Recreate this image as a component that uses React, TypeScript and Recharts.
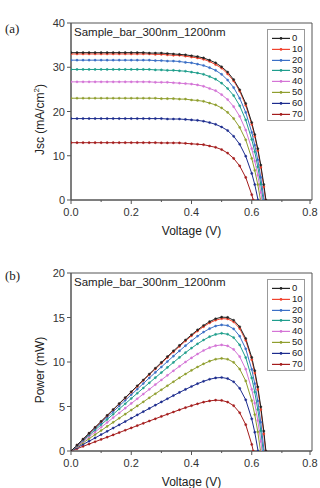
import { LineChart, Line, XAxis, YAxis, ReferenceArea, Legend, Label } from "recharts";

// bias points (V); each series stops at its own open-circuit voltage
const voltage = [
  0, 0.02, 0.04, 0.06, 0.08, 0.1, 0.12, 0.14, 0.16, 0.18, 0.2, 0.22, 0.24, 0.26, 0.28,
  0.3, 0.32, 0.34, 0.36, 0.38, 0.4, 0.42, 0.44, 0.46, 0.48, 0.5, 0.52, 0.54, 0.56, 0.58,
  0.6, 0.61, 0.62, 0.63, 0.64,
];

const labels = ["0", "10", "20", "30", "40", "50", "60", "70"];
const colors = ["#222222", "#f0432e", "#3b6fc6", "#1f9e8c", "#d474d6", "#8f9e2e", "#1c2c8e", "#a41c1c"];
const voc = [0.647, 0.646, 0.641, 0.638, 0.634, 0.629, 0.621, 0.605];

// current density (mA/cm2)
const jsc0 = [
  33.3, 33.3, 33.3, 33.3, 33.3, 33.3, 33.3, 33.3, 33.3, 33.3, 33.3, 33.3, 33.3, 33.2, 33.2,
  33.2, 33.1, 33.0, 32.9, 32.8, 32.6, 32.4, 32.1, 31.6, 31.0, 30.1, 28.9, 27.2, 24.9, 21.8,
  17.5, 14.8, 11.6, 7.9, 3.5,
];
const jsc10 = [
  33.0, 33.0, 33.0, 33.0, 33.0, 33.0, 33.0, 33.0, 33.0, 33.0, 33.0, 33.0, 33.0, 33.0, 32.9,
  32.9, 32.8, 32.7, 32.7, 32.5, 32.3, 32.1, 31.8, 31.3, 30.6, 29.8, 28.5, 26.9, 24.6, 21.4,
  17.1, 14.4, 11.2, 7.4, 3.0,
];
const jsc20 = [
  31.6, 31.6, 31.6, 31.6, 31.6, 31.6, 31.6, 31.6, 31.6, 31.6, 31.6, 31.6, 31.6, 31.6, 31.5,
  31.5, 31.4, 31.4, 31.3, 31.1, 31.0, 30.7, 30.4, 29.9, 29.3, 28.4, 27.1, 25.4, 23.0, 19.8,
  15.3, 12.4, 9.1, 5.1,
];
const jsc30 = [
  29.5, 29.5, 29.5, 29.5, 29.5, 29.5, 29.5, 29.5, 29.5, 29.5, 29.5, 29.5, 29.5, 29.5, 29.4,
  29.4, 29.3, 29.3, 29.2, 29.1, 28.9, 28.7, 28.4, 27.9, 27.3, 26.4, 25.2, 23.6, 21.3, 18.1,
  13.7, 10.9, 7.5, 3.6,
];
const jsc40 = [
  26.7, 26.7, 26.7, 26.7, 26.7, 26.7, 26.7, 26.7, 26.7, 26.7, 26.7, 26.7, 26.7, 26.7, 26.6,
  26.6, 26.6, 26.5, 26.4, 26.3, 26.2, 26.0, 25.7, 25.2, 24.7, 23.8, 22.7, 21.1, 18.9, 15.8,
  11.6, 8.8, 5.6, 1.7,
];
const jsc50 = [
  23.0, 23.0, 23.0, 23.0, 23.0, 23.0, 23.0, 23.0, 23.0, 23.0, 23.0, 23.0, 23.0, 23.0, 23.0,
  22.9, 22.9, 22.9, 22.8, 22.8, 22.6, 22.5, 22.3, 21.9, 21.5, 20.8, 19.8, 18.4, 16.4, 13.6,
  9.4, 6.7, 3.5,
];
const jsc60 = [
  18.4, 18.4, 18.4, 18.4, 18.4, 18.4, 18.4, 18.4, 18.4, 18.4, 18.4, 18.4, 18.4, 18.4, 18.4,
  18.4, 18.3, 18.3, 18.3, 18.2, 18.1, 18.0, 17.8, 17.5, 17.1, 16.5, 15.7, 14.4, 12.6, 9.9,
  6.0, 3.5,
];
const jsc70 = [
  12.95, 12.95, 12.95, 12.95, 12.95, 12.95, 12.95, 12.95, 12.95, 12.95, 12.95, 12.95, 12.95, 12.95, 12.95,
  12.9, 12.9, 12.9, 12.9, 12.8, 12.7, 12.6, 12.5, 12.2, 11.9, 11.4, 10.6, 9.4, 7.7, 5.1,
  1.2,
];

// output power (mW)
const power0 = [
  0, 0.67, 1.33, 2.0, 2.66, 3.33, 4.0, 4.66, 5.33, 5.99, 6.66, 7.32, 7.98, 8.64, 9.3,
  9.95, 10.6, 11.24, 11.86, 12.47, 13.06, 13.6, 14.1, 14.53, 14.86, 15.04, 15.01, 14.69, 13.96, 12.64,
  10.51, 9.02, 7.2, 4.96, 2.24,
];
const power10 = [
  0, 0.66, 1.32, 1.98, 2.64, 3.3, 3.96, 4.62, 5.28, 5.94, 6.6, 7.26, 7.92, 8.57, 9.22,
  9.86, 10.5, 11.13, 11.75, 12.36, 12.94, 13.48, 13.97, 14.39, 14.7, 14.87, 14.84, 14.51, 13.76, 12.43,
  10.26, 8.76, 6.92, 4.66, 1.92,
];
const power20 = [
  0, 0.63, 1.26, 1.9, 2.53, 3.16, 3.79, 4.42, 5.06, 5.69, 6.32, 6.95, 7.58, 8.21, 8.83,
  9.44, 10.05, 10.66, 11.25, 11.83, 12.38, 12.9, 13.36, 13.75, 14.04, 14.17, 14.1, 13.72, 12.9, 11.48,
  9.17, 7.58, 5.63, 3.23,
];
const power30 = [
  0, 0.59, 1.18, 1.77, 2.36, 2.95, 3.54, 4.13, 4.72, 5.31, 5.9, 6.49, 7.08, 7.66, 8.24,
  8.81, 9.39, 9.95, 10.51, 11.05, 11.56, 12.04, 12.47, 12.84, 13.1, 13.22, 13.12, 12.74, 11.92, 10.5,
  8.21, 6.62, 4.67, 2.28,
];
const power40 = [
  0, 0.53, 1.07, 1.6, 2.14, 2.67, 3.2, 3.74, 4.27, 4.81, 5.34, 5.87, 6.4, 6.93, 7.46,
  7.98, 8.5, 9.01, 9.51, 10.0, 10.46, 10.9, 11.29, 11.61, 11.83, 11.92, 11.81, 11.41, 10.6, 9.19,
  6.93, 5.37, 3.44, 1.08,
];
const power50 = [
  0, 0.46, 0.92, 1.38, 1.84, 2.3, 2.76, 3.22, 3.68, 4.14, 4.6, 5.06, 5.52, 5.98, 6.43,
  6.88, 7.33, 7.78, 8.22, 8.65, 9.06, 9.44, 9.79, 10.09, 10.31, 10.4, 10.31, 9.96, 9.21, 7.87,
  5.65, 4.09, 2.16,
];
const power60 = [
  0, 0.37, 0.74, 1.1, 1.47, 1.84, 2.21, 2.58, 2.94, 3.31, 3.68, 4.05, 4.42, 4.78, 5.15,
  5.51, 5.87, 6.23, 6.58, 6.92, 7.25, 7.56, 7.83, 8.06, 8.21, 8.26, 8.14, 7.78, 7.04, 5.75,
  3.61, 2.11,
];
const power70 = [
  0, 0.26, 0.52, 0.78, 1.04, 1.3, 1.55, 1.81, 2.07, 2.33, 2.59, 2.85, 3.11, 3.37, 3.62,
  3.88, 4.13, 4.38, 4.63, 4.87, 5.09, 5.3, 5.49, 5.63, 5.71, 5.68, 5.5, 5.09, 4.3, 2.96,
  0.74,
];

const xTicks = [0, 0.1, 0.2, 0.3, 0.4, 0.5, 0.6, 0.7, 0.8];
const jscTicks = [0, 5, 10, 15, 20, 25, 30, 35, 40];
const powerTicks = [0, 2.5, 5, 7.5, 10, 12.5, 15, 17.5, 20];

const jscSeries = [jsc0, jsc10, jsc20, jsc30, jsc40, jsc50, jsc60, jsc70];
const powerSeries = [power0, power10, power20, power30, power40, power50, power60, power70];

const FONT = '"Liberation Sans", Arial, sans-serif';
const AXIS = "#555";

type Pt = { v: number; y: number };

const toPoints = (vals: number[], end: number): Pt[] => [
  ...vals.map((y, k) => ({ v: voltage[k], y })),
  { v: end, y: 0 },
];

function XTick({ x, y, payload }: any) {
  const major = Math.round(payload.value * 10) % 2 === 0;
  return (
    <g>
      <line x1={x} x2={x} y1={y} y2={y + (major ? 4 : 2)} stroke={AXIS} />
      {major && (
        <text x={x} y={y + 16} textAnchor="middle" fontSize={11} fill="#333" fontFamily={FONT}>
          {payload.value.toFixed(1)}
        </text>
      )}
    </g>
  );
}

function makeYTick(step: number) {
  return function YTick({ x, y, payload }: any) {
    const major = payload.value % step === 0;
    return (
      <g>
        <line x1={x - (major ? 4 : 2)} x2={x} y1={y} y2={y} stroke={AXIS} />
        {major && (
          <text x={x - 6} y={y + 4} textAnchor="end" fontSize={11} fill="#333" fontFamily={FONT}>
            {payload.value}
          </text>
        )}
      </g>
    );
  };
}

function PlotTitle({ viewBox }: any) {
  return (
    <text x={viewBox.x + 3} y={viewBox.y + 13} fontSize={11.5} fill="#222" fontFamily={FONT}>
      Sample_bar_300nm_1200nm
    </text>
  );
}

function LegendBox({ rowHeight }: { rowHeight: number }) {
  return (
    <div
      style={{
        border: "1px solid #999",
        background: "#fff",
        padding: "3px 0 1px 3px",
        width: 38,
        boxSizing: "border-box",
        fontFamily: FONT,
      }}
    >
      {labels.map((l, i) => (
        <div key={l} style={{ display: "flex", alignItems: "center", height: rowHeight }}>
          <svg width={19} height={rowHeight} style={{ display: "block" }}>
            <line x1={1} x2={19} y1={rowHeight / 2} y2={rowHeight / 2} stroke={colors[i]} strokeWidth={1.2} />
            <circle cx={10} cy={rowHeight / 2} r={1.3} fill={colors[i]} />
          </svg>
          <span style={{ fontSize: 9.5, marginLeft: 2, lineHeight: `${rowHeight}px`, color: "#222" }}>{l}</span>
        </div>
      ))}
    </div>
  );
}

interface PanelProps {
  height: number;
  marginTop: number;
  marginBottom: number;
  series: number[][];
  yMax: number;
  yTicks: number[];
  yStep: number;
  yLabel: React.ReactNode;
  rowHeight: number;
}

function Panel({ height, marginTop, marginBottom, series, yMax, yTicks, yStep, yLabel, rowHeight }: PanelProps) {
  const YTick = makeYTick(yStep);
  // draw the 70 curve first so 0 ends up on top
  const order = [7, 6, 5, 4, 3, 2, 1, 0];
  return (
    <LineChart width={320} height={height} margin={{ top: marginTop, right: 8, bottom: marginBottom, left: 0 }}>
      <XAxis
        type="number"
        dataKey="v"
        domain={[0, 0.8]}
        ticks={xTicks}
        allowDataOverflow
        height={30}
        stroke={AXIS}
        tickLine={false}
        tickSize={0}
        tickMargin={0}
        tick={<XTick />}
      >
        <Label
          content={({ viewBox }: any) => (
            <text
              x={viewBox.x + viewBox.width / 2}
              y={viewBox.y + 35}
              textAnchor="middle"
              fontSize={12}
              fill="#222"
              fontFamily={FONT}
            >
              Voltage (V)
            </text>
          )}
        />
      </XAxis>
      <YAxis
        type="number"
        domain={[0, yMax]}
        ticks={yTicks}
        allowDataOverflow
        width={71}
        stroke={AXIS}
        tickLine={false}
        tickSize={0}
        tickMargin={0}
        tick={<YTick />}
      >
        <Label
          content={({ viewBox }: any) => {
            const cy = viewBox.y + viewBox.height / 2 + 8;
            return (
              <text
                x={40}
                y={cy}
                transform={`rotate(-90 40 ${cy})`}
                textAnchor="middle"
                dominantBaseline="central"
                fontSize={12}
                fill="#222"
                fontFamily={FONT}
              >
                {yLabel}
              </text>
            );
          }}
        />
      </YAxis>
      <ReferenceArea x1={0} x2={0.8} y1={0} y2={yMax} fill="none" stroke={AXIS} label={<PlotTitle />} />
      <Legend
        layout="horizontal"
        verticalAlign="middle"
        align="center"
        content={() => <LegendBox rowHeight={rowHeight} />}
        wrapperStyle={{ left: 267, top: marginTop + 6, width: 38, height: "auto" }}
      />
      {order.map((i) => (
        <Line
          key={labels[i]}
          name={labels[i]}
          data={toPoints(series[i], voc[i])}
          dataKey="y"
          type="linear"
          stroke={colors[i]}
          strokeWidth={1}
          dot={{ r: 1.1, fill: colors[i], stroke: colors[i], strokeWidth: 0.4 }}
          isAnimationActive={false}
        />
      ))}
    </LineChart>
  );
}

const panelTag: React.CSSProperties = {
  position: "absolute",
  left: 5,
  fontFamily: '"Liberation Serif", "Times New Roman", serif',
  fontSize: 13,
  color: "#222",
};

export default function App() {
  return (
    <div style={{ position: "absolute", left: 0, top: 0, width: 320, height: 488, background: "#fff" }}>
      <div style={{ position: "relative", height: 240 }}>
        <Panel
          height={240}
          marginTop={23}
          marginBottom={10}
          series={jscSeries}
          yMax={40}
          yTicks={jscTicks}
          yStep={10}
          yLabel={
            <>
              Jsc (mA/cm
              <tspan dy={-4} fontSize={8}>
                2
              </tspan>
              <tspan dy={4}>)</tspan>
            </>
          }
          rowHeight={10.8}
        />
        <span style={{ ...panelTag, top: 21 }}>(a)</span>
      </div>
      <div style={{ position: "relative", height: 248 }}>
        <Panel
          height={248}
          marginTop={33}
          marginBottom={7}
          series={powerSeries}
          yMax={20}
          yTicks={powerTicks}
          yStep={5}
          yLabel="Power (mW)"
          rowHeight={10.8}
        />
        <span style={{ ...panelTag, top: 28 }}>(b)</span>
      </div>
    </div>
  );
}
